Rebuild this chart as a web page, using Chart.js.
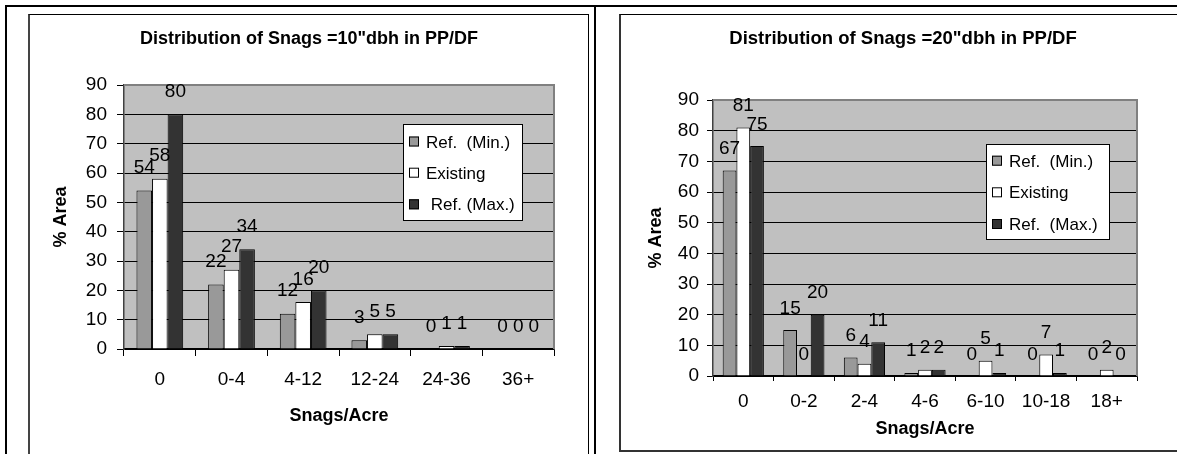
<!DOCTYPE html>
<html>
<head>
<meta charset="utf-8">
<script src="https://cdn.jsdelivr.net/npm/chart.js@4.4.0/dist/chart.umd.min.js"></script>
<style>
    html, body { margin: 0; padding: 0; background: #fff; overflow: hidden; }
    body { width: 1177px; height: 454px; position: relative; }
    .rule { position: absolute; background: #000; }
    .frame { position: absolute; box-sizing: border-box; }
    canvas { position: absolute; }
</style>
</head>
<body>
<div class="rule" style="left:5px;top:5px;width:1172px;height:2px"></div>
<div class="rule" style="left:5px;top:5px;width:2px;height:449px"></div>
<div class="rule" style="left:594px;top:5px;width:2px;height:449px"></div>
<div class="frame" style="left:28px;top:14px;width:561px;height:460px;border:1px solid #000;border-left:2px solid #444"></div>
<div class="frame" style="left:619px;top:14px;width:570px;height:438px;border:1px solid #000;border-left:2px solid #333;border-bottom:2px solid #333"></div>
<canvas id="chart10" width="561" height="440" style="left:28px;top:14px"></canvas>
<canvas id="chart20" width="558" height="436" style="left:619px;top:15px"></canvas>

<script>
// data
const snags10Categories = ['0', '0-4', '4-12', '12-24', '24-36', '36+'];
const snags10RefMin = [54, 22, 12, 3, 0, 0];
const snags10Existing = [58, 27, 16, 5, 1, 0];
const snags10RefMax = [80, 34, 20, 5, 1, 0];
const snags10Legend = ['Ref.  (Min.)', 'Existing', ' Ref. (Max.)'];

const snags20Categories = ['0', '0-2', '2-4', '4-6', '6-10', '10-18', '18+'];
const snags20RefMin = [67, 15, 6, 1, 0, 0, 0];
const snags20Existing = [81, 0, 4, 2, 5, 7, 2];
const snags20RefMax = [75, 20, 11, 2, 1, 1, 0];
const snags20Legend = ['Ref.  (Min.)', 'Existing', 'Ref.  (Max.)'];

const areaTicks = [0, 10, 20, 30, 40, 50, 60, 70, 80, 90];

const FONT = '"Liberation Sans", Arial, sans-serif';
const seriesColors = ['#999999', '#ffffff', '#333333'];

// grey plot area with grey top/right edge, like the Excel chart
const plotBackground = {
    id: 'plotBackground',
    beforeDraw(chart) {
        const { ctx, chartArea: a } = chart;
        ctx.save();
        ctx.fillStyle = '#c0c0c0';
        ctx.fillRect(a.left, a.top, a.right - a.left, a.bottom - a.top);
        ctx.restore();
    },
    afterDatasetsDraw(chart) {
        const { ctx, chartArea: a } = chart;
        ctx.save();
        ctx.strokeStyle = '#808080';
        ctx.lineWidth = 2;
        ctx.beginPath();
        ctx.moveTo(a.left, a.top);
        ctx.lineTo(a.right, a.top);
        ctx.lineTo(a.right, a.bottom);
        ctx.stroke();
        ctx.restore();
    }
};

const chartHeading = {
    id: 'chartHeading',
    afterDraw(chart, args, opts) {
        const ctx = chart.ctx;
        ctx.save();
        ctx.font = `bold ${opts.size}px ${FONT}`;
        ctx.fillStyle = '#000';
        ctx.textAlign = 'center';
        ctx.textBaseline = 'middle';
        ctx.fillText(opts.text, opts.x, opts.y);
        ctx.restore();
    }
};

// value above every bar
const barValues = {
    id: 'barValues',
    afterDatasetsDraw(chart, args, opts) {
        const ctx = chart.ctx;
        ctx.save();
        ctx.font = `19px ${FONT}`;
        ctx.fillStyle = '#000';
        ctx.textAlign = 'center';
        ctx.textBaseline = 'alphabetic';
        chart.data.datasets.forEach((ds, i) => {
            chart.getDatasetMeta(i).data.forEach((bar, j) => {
                ctx.fillText(String(ds.data[j]), bar.x, bar.y - opts.lift);
            });
        });
        ctx.restore();
    }
};

// boxed legend sitting inside the plot area
const boxLegend = {
    id: 'boxLegend',
    afterDraw(chart, args, opts) {
        const ctx = chart.ctx;
        ctx.save();
        ctx.fillStyle = '#fff';
        ctx.fillRect(opts.x, opts.y, opts.width, opts.height);
        ctx.strokeStyle = '#000';
        ctx.lineWidth = 1;
        ctx.strokeRect(opts.x + 0.5, opts.y + 0.5, opts.width - 1, opts.height - 1);
        ctx.font = `17px ${FONT}`;
        ctx.textAlign = 'left';
        ctx.textBaseline = 'alphabetic';
        chart.data.datasets.forEach((ds, i) => {
            const cy = opts.rows[i];
            ctx.fillStyle = ds.backgroundColor;
            ctx.fillRect(opts.swatchX, cy - 5, 10, 10);
            ctx.strokeRect(opts.swatchX + 0.5, cy - 4.5, 9, 9);
            ctx.fillStyle = '#000';
            ctx.fillText(ds.label, opts.textX, cy + 6);
        });
        ctx.restore();
    }
};

function makeChart(canvasId, categories, series, legendLabels, s) {
    const ctx = document.getElementById(canvasId).getContext('2d');
    return new Chart(ctx, {
        type: 'bar',
        data: {
            labels: categories,
            datasets: series.map((values, i) => ({
                label: legendLabels[i],
                data: values,
                backgroundColor: seriesColors[i],
                borderColor: '#000',
                borderWidth: 1,
                categoryPercentage: s.groupWidth,
                barPercentage: 1.0
            }))
        },
        options: {
            responsive: false,
            animation: false,
            devicePixelRatio: 1,
            layout: { padding: { top: s.top, right: s.right, left: 0, bottom: 0 } },
            scales: {
                x: {
                    grid: { display: true, drawOnChartArea: false, drawTicks: true, tickLength: s.xTickLen, color: '#000', offset: true },
                    border: { display: true, color: '#000', width: 1.5 },
                    ticks: { color: '#000', font: { family: FONT, size: 19 }, padding: s.xTickPad, maxRotation: 0, autoSkip: false },
                    title: { display: true, text: 'Snags/Acre', color: '#000', font: { family: FONT, size: 18, weight: 'bold' }, padding: { top: 0, bottom: s.xTitlePad } },
                    afterFit: sc => { sc.height = s.xHeight; }
                },
                y: {
                    min: 0,
                    max: 90,
                    afterBuildTicks: sc => { sc.ticks = areaTicks.map(v => ({ value: v })); },
                    grid: { color: '#000', lineWidth: 1, tickLength: s.yTickLen },
                    border: { display: true, color: '#404040', width: 1.5 },
                    ticks: { color: '#000', font: { family: FONT, size: 19 }, padding: s.yTickPad },
                    title: { display: true, text: '% Area', color: '#000', font: { family: FONT, size: 18, weight: 'bold' }, padding: { top: s.yTitlePad, bottom: 0 } },
                    afterFit: sc => { sc.width = s.yWidth; }
                }
            },
            plugins: {
                legend: { display: false },
                tooltip: { enabled: false },
                chartHeading: s.heading,
                boxLegend: s.legend,
                barValues: { lift: s.lift }
            }
        },
        plugins: [plotBackground, barValues, boxLegend, chartHeading]
    });
}

makeChart('chart10', snags10Categories, [snags10RefMin, snags10Existing, snags10RefMax], snags10Legend, {
    top: 71, right: 35, groupWidth: 0.652,
    yWidth: 96, yTickLen: 7, yTickPad: 10, yTitlePad: 22.5,
    xHeight: 105, xTickLen: 7, xTickPad: 12.4, xTitlePad: 27,
    heading: { text: 'Distribution of Snags =10"dbh in PP/DF', x: 281, y: 25, size: 18 },
    legend: { x: 375, y: 110, width: 120, height: 97, swatchX: 381, textX: 398, rows: [127.5, 158.7, 190.3] },
    lift: 17.5
});

makeChart('chart20', snags20Categories, [snags20RefMin, snags20Existing, snags20RefMax], snags20Legend, {
    top: 85, right: 40, groupWidth: 0.68,
    yWidth: 94, yTickLen: 6, yTickPad: 8, yTitlePad: 26,
    xHeight: 75, xTickLen: 5, xTickPad: 9.4, xTitlePad: 11,
    heading: { text: 'Distribution of Snags =20"dbh in PP/DF', x: 284, y: 24, size: 18.5 },
    legend: { x: 367, y: 129, width: 124, height: 96, swatchX: 373, textX: 390, rows: [145.7, 177.3, 209] },
    lift: 16.5
});
</script>
</body>
</html>
